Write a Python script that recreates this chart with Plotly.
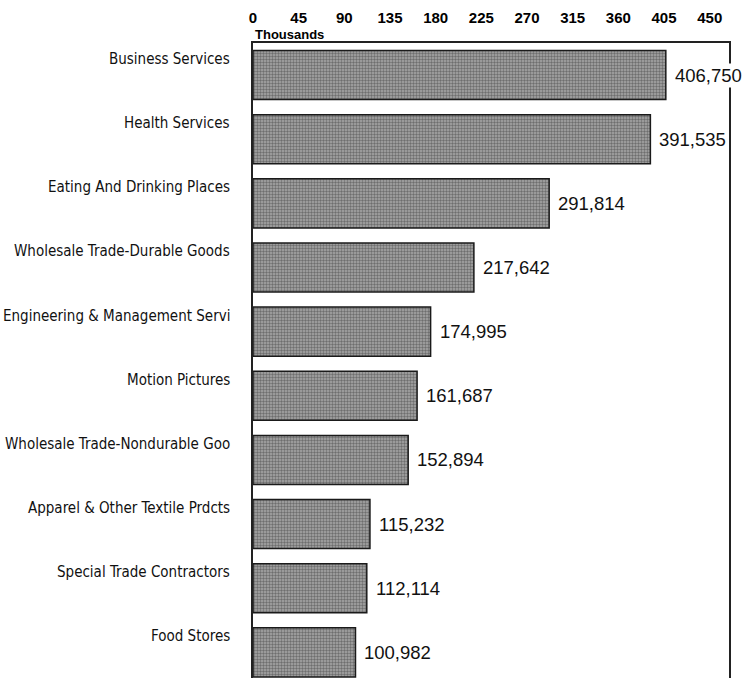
import plotly.graph_objects as go

categories = [
    "Business Services",
    "Health Services",
    "Eating And Drinking Places",
    "Wholesale Trade-Durable Goods",
    "Engineering & Management Servi",
    "Motion Pictures",
    "Wholesale Trade-Nondurable Goo",
    "Apparel & Other Textile Prdcts",
    "Special Trade Contractors",
    "Food Stores",
]
values = [406750, 391535, 291814, 217642, 174995, 161687, 152894, 115232, 112114, 100982]
tick_values = [0, 45, 90, 135, 180, 225, 270, 315, 360, 405, 450]
axis_title = "Thousands"

x_thousands = [v / 1000 for v in values]

COND = "DejaVu Sans Condensed, Liberation Sans, Arial, sans-serif"
SANS = "Liberation Sans, Arial, sans-serif"

fig = go.Figure()
fig.add_trace(go.Bar(
    x=x_thousands,
    y=categories,
    orientation="h",
    marker=dict(
        color="#9a9a9a",
        line=dict(color="#1a1a1a", width=1.5),
        pattern=dict(shape=".", fgcolor="#333333", bgcolor="#a8a8a8", size=3, solidity=0.5),
    ),
    hoverinfo="skip",
))

annotations = []
for c, v, xv in zip(categories, values, x_thousands):
    annotations.append(dict(
        x=xv, y=c, xref="x", yref="y", text=f"{v:,}", showarrow=False,
        xanchor="left", yanchor="middle", xshift=7, bgcolor="white", borderpad=1,
        font=dict(family=SANS, size=18.5, color="#111"),
    ))
    annotations.append(dict(
        x=0, y=c, xref="paper", yref="y", text=c, showarrow=False,
        xanchor="right", yanchor="middle", xshift=-21, yshift=16,
        font=dict(family=COND, size=15, color="#111"),
    ))
annotations.append(dict(
    x=0, y=1, xref="paper", yref="paper", text=axis_title, showarrow=False,
    xanchor="left", yanchor="bottom", yshift=-1,
    font=dict(family=SANS, size=13, color="#000", weight="bold"),
))

fig.update_layout(
    width=753, height=678,
    margin=dict(l=253, r=24, t=43, b=0),
    paper_bgcolor="white", plot_bgcolor="white",
    showlegend=False,
    bargap=0.235,
    annotations=annotations,
    font=dict(family=SANS, color="#000"),
)
fig.update_xaxes(
    side="top", range=[0, 469], tickvals=tick_values,
    tickfont=dict(family=SANS, size=15, color="#000", weight="bold"),
    showgrid=False, zeroline=False, showline=True, linecolor="#222", linewidth=1.5,
    ticks="", ticklabelstandoff=12,
)
fig.update_yaxes(
    range=[9.4, -0.5], showticklabels=False, showgrid=False, zeroline=False,
    showline=True, mirror=True, linecolor="#222", linewidth=1.5, ticks="",
)

fig.write_html("out.html", config={"displayModeBar": False},
               post_script="document.body.style.margin='0';")
